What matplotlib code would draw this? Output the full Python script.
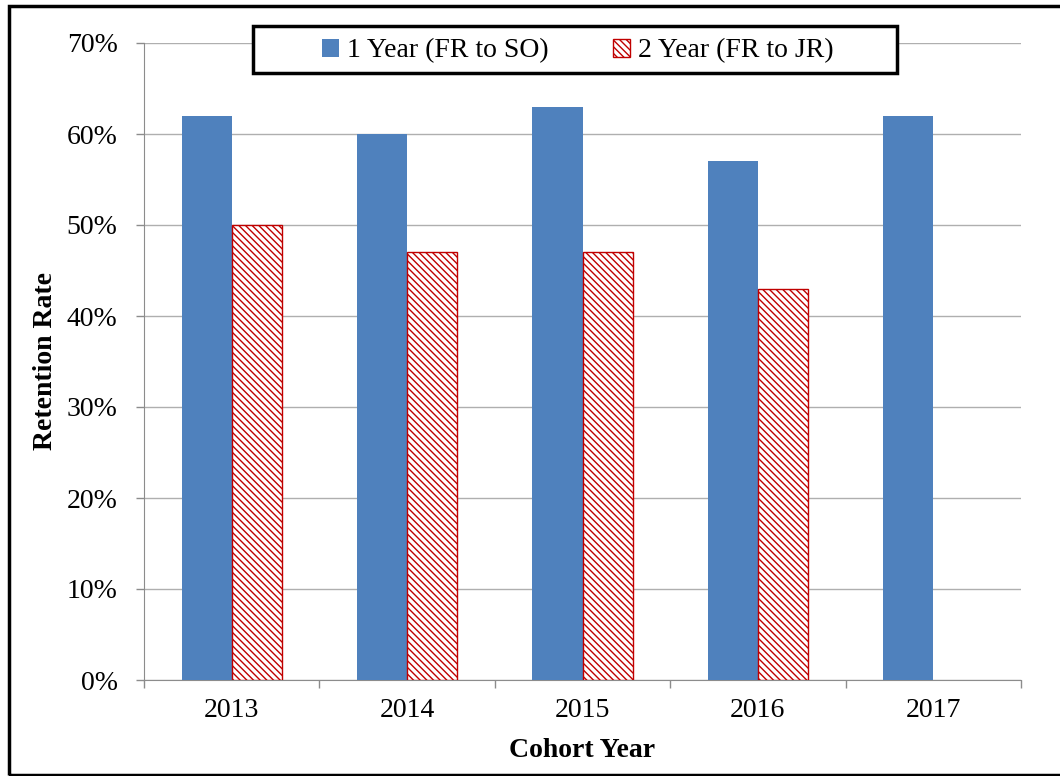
import matplotlib.pyplot as plt
import numpy as np
from matplotlib.patches import Rectangle, Patch
from matplotlib.ticker import FixedLocator

# data
cohorts = ['2013', '2014', '2015', '2016', '2017']
one_year = [62, 60, 63, 57, 62]
two_year = [50, 47, 47, 43, np.nan]

plt.rcParams['font.family'] = ['Liberation Serif', 'DejaVu Serif']
plt.rcParams['hatch.linewidth'] = 1.0

fig = plt.figure(figsize=(10.6, 7.76), dpi=100)
ax = fig.add_axes([144 / 1060, 96 / 776, 877 / 1060, 637 / 776])

x = np.arange(len(cohorts))
w = 0.2857
ax.bar(x - w / 2, one_year, w, color='#4F81BD', zorder=3)
ax.bar(x + w / 2, two_year, w, color='white', edgecolor='#C00000',
       hatch='\\\\\\\\\\', linewidth=1.0, zorder=3)

ax.set_xlim(-0.5, len(cohorts) - 0.5)
ax.set_ylim(0, 70)
ax.set_yticks(np.arange(0, 71, 10))
ax.set_yticklabels([f'{v}%' for v in range(0, 71, 10)])
ax.set_xticks(x)
ax.set_xticklabels(cohorts)
ax.xaxis.set_minor_locator(FixedLocator(np.arange(-0.5, len(cohorts), 1.0)))

ax.tick_params(axis='x', which='major', length=0, pad=13, labelsize=20)
ax.tick_params(axis='x', which='minor', length=6, color='#8C8C8C', width=1)
ax.tick_params(axis='y', length=6, color='#8C8C8C', width=1, pad=13, labelsize=20)

ax.grid(axis='y', color='#AFAFAF', linewidth=1, zorder=0)
for s in ['top', 'right']:
    ax.spines[s].set_visible(False)
for s in ['left', 'bottom']:
    ax.spines[s].set_color('#8C8C8C')

ax.set_xlabel('Cohort Year', fontsize=20, fontweight='bold', labelpad=11)
ax.set_ylabel('Retention Rate', fontsize=20, fontweight='bold', labelpad=6)

# legend inside a plain black box
handles = [Patch(facecolor='#4F81BD', label='1 Year (FR to SO)'),
           Patch(facecolor='white', edgecolor='#C00000', hatch='\\\\\\\\\\',
                 label='2 Year (FR to JR)')]
fig.patches.append(Rectangle((253 / 1060, 1 - 73 / 776), 644 / 1060, 47 / 776,
                             transform=fig.transFigure, facecolor='white',
                             edgecolor='black', linewidth=2.5, zorder=5))
leg = fig.legend(handles=handles, loc='center', ncol=2, frameon=False,
                 bbox_to_anchor=(578 / 1060, 1 - 51 / 776), fontsize=20,
                 handlelength=0.6, handleheight=0.6, handletextpad=0.3,
                 columnspacing=2.3)
leg.set_zorder(6)

# outer frame
fig.patches.append(Rectangle((8.5 / 1060, 1 - 774.5 / 776), 1.2, 769 / 776,
                             transform=fig.transFigure, fill=False,
                             edgecolor='black', linewidth=2.5))

fig.savefig('out.png', dpi=100)
